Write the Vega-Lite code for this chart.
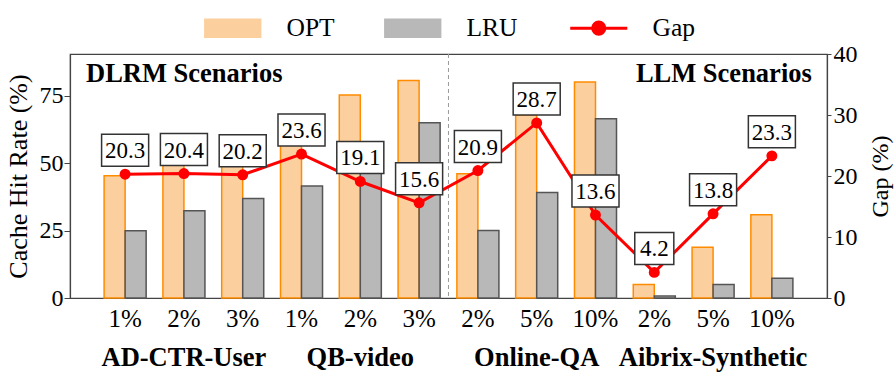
{
  "$schema": "https://vega.github.io/schema/vega-lite/v6.json",
  "width": 757,
  "height": 244,
  "autosize": {"type": "none"},
  "padding": {"left": 70, "top": 54, "right": 69, "bottom": 81},
  "datasets": {
    "bars": [
      {"cat": "AD-CTR-User|1%", "series": "OPT", "value": 45.3},
      {"cat": "AD-CTR-User|1%", "series": "LRU", "value": 24.9},
      {"cat": "AD-CTR-User|2%", "series": "OPT", "value": 52.7},
      {"cat": "AD-CTR-User|2%", "series": "LRU", "value": 32.3},
      {"cat": "AD-CTR-User|3%", "series": "OPT", "value": 57.1},
      {"cat": "AD-CTR-User|3%", "series": "LRU", "value": 36.9},
      {"cat": "QB-video|1%", "series": "OPT", "value": 65.1},
      {"cat": "QB-video|1%", "series": "LRU", "value": 41.5},
      {"cat": "QB-video|2%", "series": "OPT", "value": 75.2},
      {"cat": "QB-video|2%", "series": "LRU", "value": 56.1},
      {"cat": "QB-video|3%", "series": "OPT", "value": 80.6},
      {"cat": "QB-video|3%", "series": "LRU", "value": 64.9},
      {"cat": "Online-QA|2%", "series": "OPT", "value": 46.0},
      {"cat": "Online-QA|2%", "series": "LRU", "value": 25.0},
      {"cat": "Online-QA|5%", "series": "OPT", "value": 67.8},
      {"cat": "Online-QA|5%", "series": "LRU", "value": 39.1},
      {"cat": "Online-QA|10%", "series": "OPT", "value": 80.0},
      {"cat": "Online-QA|10%", "series": "LRU", "value": 66.4},
      {"cat": "Aibrix-Synthetic|2%", "series": "OPT", "value": 5.0},
      {"cat": "Aibrix-Synthetic|2%", "series": "LRU", "value": 0.7},
      {"cat": "Aibrix-Synthetic|5%", "series": "OPT", "value": 18.8},
      {"cat": "Aibrix-Synthetic|5%", "series": "LRU", "value": 5.0},
      {"cat": "Aibrix-Synthetic|10%", "series": "OPT", "value": 30.8},
      {"cat": "Aibrix-Synthetic|10%", "series": "LRU", "value": 7.3}
    ],
    "gap": [
      {"cat": "AD-CTR-User|1%", "gap": 20.3},
      {"cat": "AD-CTR-User|2%", "gap": 20.4},
      {"cat": "AD-CTR-User|3%", "gap": 20.2},
      {"cat": "QB-video|1%", "gap": 23.6},
      {"cat": "QB-video|2%", "gap": 19.1},
      {"cat": "QB-video|3%", "gap": 15.6},
      {"cat": "Online-QA|2%", "gap": 20.9},
      {"cat": "Online-QA|5%", "gap": 28.7},
      {"cat": "Online-QA|10%", "gap": 13.6},
      {"cat": "Aibrix-Synthetic|2%", "gap": 4.2},
      {"cat": "Aibrix-Synthetic|5%", "gap": 13.8},
      {"cat": "Aibrix-Synthetic|10%", "gap": 23.3}
    ]
  },
  "layer": [
    {
      "layer": [
        {
          "data": {"name": "bars"},
          "mark": {"type": "bar", "strokeWidth": 1.5},
          "encoding": {
            "x": {
              "field": "cat",
              "type": "nominal",
              "scale": {
                "domain": ["AD-CTR-User|1%", "AD-CTR-User|2%", "AD-CTR-User|3%", "QB-video|1%", "QB-video|2%", "QB-video|3%", "Online-QA|2%", "Online-QA|5%", "Online-QA|10%", "Aibrix-Synthetic|2%", "Aibrix-Synthetic|5%", "Aibrix-Synthetic|10%"],
                "paddingInner": 0.285,
                "paddingOuter": 0.58
              },
              "axis": {
                "orient": "bottom",
                "title": null,
                "labelAngle": 0,
                "ticks": false,
                "tickSize": 0,
                "labelPadding": 8,
                "labelFontSize": 25,
                "labelExpr": "split(datum.value, '|')[1]"
              }
            },
            "xOffset": {
              "field": "series",
              "type": "nominal",
              "scale": {"domain": ["OPT", "LRU"], "paddingInner": 0, "paddingOuter": 0}
            },
            "y": {
              "field": "value",
              "type": "quantitative",
              "scale": {"domain": [0, 90.4], "nice": false},
              "axis": {
                "orient": "left",
                "values": [0, 25, 50, 75],
                "title": "Cache Hit Rate (%)",
                "titleFontSize": 26,
                "labelFontSize": 24,
                "tickSize": 6,
                "labelPadding": 1,
                "titlePadding": 8
              }
            },
            "color": {
              "field": "series",
              "type": "nominal",
              "scale": {"domain": ["OPT", "LRU", "Gap"], "range": ["#fccf9f", "#b8b8b8", "#ff0000"]},
              "legend": {
                "orient": "none",
                "legendX": 150,
                "legendY": -39,
                "direction": "horizontal",
                "title": null,
                "labelFont": "Liberation Serif, DejaVu Serif, serif",
                "labelFontSize": 25.5,
                "labelColor": "#000",
                "symbolSize": 324,
                "labelOffset": 41,
                "columnPadding": 46,
                "encode": {
                  "symbols": {
                    "update": {
                      "shape": {"signal": "datum.value === 'Gap' ? 'M-3.17,0H3.17M-0.67,0A0.67,0.67 0 1,0 0.67,0A0.67,0.67 0 1,0 -0.67,0Z' : 'M-3.1,-1H3.1V1H-3.1Z'"},
                      "fill": {"signal": "datum.value === 'OPT' ? '#fccf9f' : datum.value === 'LRU' ? '#b8b8b8' : '#ff0000'"},
                      "stroke": {"signal": "datum.value === 'OPT' ? '#ff8c00' : datum.value === 'LRU' ? '#555555' : '#ff0000'"},
                      "strokeWidth": {"signal": "datum.value === 'Gap' ? 3 : 1.5"},
                      "opacity": {"value": 1},
                      "fillOpacity": {"value": 1},
                      "strokeOpacity": {"value": 1}
                    }
                  }
                }
              }
            },
            "stroke": {
              "field": "series",
              "type": "nominal",
              "scale": {"domain": ["OPT", "LRU"], "range": ["#ff8c00", "#555555"]},
              "legend": null
            }
          }
        },
        {
          "data": {"values": [{}]},
          "mark": {"type": "rule", "color": "#9a9a9a", "strokeDash": [4, 3], "strokeWidth": 1},
          "encoding": {
            "x": {"datum": "Online-QA|2%", "type": "nominal", "bandPosition": -0.2}
          }
        },
        {
          "data": {"values": [{"t": "DLRM Scenarios"}]},
          "mark": {"type": "text", "align": "left", "baseline": "middle", "fontWeight": "bold", "fontSize": 26.5, "font": "Liberation Serif, DejaVu Serif, serif", "color": "#000"},
          "encoding": {
            "x": {"datum": "AD-CTR-User|1%", "type": "nominal", "bandPosition": -0.43},
            "y": {"datum": 83, "type": "quantitative"},
            "text": {"field": "t"}
          }
        },
        {
          "data": {"values": [{"t": "LLM Scenarios"}]},
          "mark": {"type": "text", "align": "right", "baseline": "middle", "fontWeight": "bold", "fontSize": 26.5, "font": "Liberation Serif, DejaVu Serif, serif", "color": "#000"},
          "encoding": {
            "x": {"datum": "Aibrix-Synthetic|10%", "type": "nominal", "bandPosition": 1.45},
            "y": {"datum": 83, "type": "quantitative"},
            "text": {"field": "t"}
          }
        }
      ]
    },
    {
      "data": {"name": "gap"},
      "encoding": {
        "x": {
          "field": "cat",
          "type": "nominal",
          "axis": {
            "orient": "bottom",
            "title": null,
            "labelAngle": 0,
            "domain": false,
            "ticks": false,
            "tickSize": 0,
            "labelPadding": 46,
            "labelFontSize": 26.5,
            "labelFontWeight": "bold",
            "labelLimit": 400,
            "labelOverlap": false,
            "labelBound": false,
            "labelExpr": "indexof(['AD-CTR-User|2%','QB-video|2%','Online-QA|5%','Aibrix-Synthetic|5%'], datum.value) >= 0 ? split(datum.value, '|')[0] : ''"
          }
        },
        "y": {
          "field": "gap",
          "type": "quantitative",
          "scale": {"domain": [0, 40], "nice": false},
          "axis": {
            "orient": "right",
            "values": [0, 10, 20, 30, 40],
            "title": "Gap (%)",
            "titleFontSize": 24,
            "labelFontSize": 24,
            "titleAngle": 270,
            "titleBaseline": "middle",
            "titleAlign": "center",
            "titleX": 53,
            "titleY": 122,
            "tickSize": 4,
            "labelPadding": 2
          }
        }
      },
      "layer": [
        {
          "mark": {"type": "line", "strokeWidth": 3, "point": {"filled": true, "size": 120}},
          "encoding": {"color": {"datum": "Gap", "type": "nominal"}}
        },
        {
          "mark": {"type": "point", "filled": true, "fill": "#ffffff", "stroke": "#333333", "strokeWidth": 1.5, "opacity": 1, "size": 1024, "yOffset": -24},
          "encoding": {
            "shape": {
              "condition": {"test": "datum.gap < 10", "value": "M-1.22,-1H1.22V1H-1.22Z"},
              "value": "M-1.47,-1H1.47V1H-1.47Z"
            }
          }
        },
        {
          "mark": {"type": "text", "fontSize": 23, "font": "Liberation Serif, DejaVu Serif, serif", "baseline": "middle", "yOffset": -23, "color": "#000"},
          "encoding": {"text": {"field": "gap", "type": "quantitative", "format": ".1f"}}
        }
      ]
    }
  ],
  "resolve": {"scale": {"y": "independent"}, "axis": {"x": "independent"}},
  "config": {
    "font": "Liberation Serif, DejaVu Serif, serif",
    "view": {"stroke": "#444444", "strokeWidth": 1.2},
    "axis": {
      "labelFont": "Liberation Serif, DejaVu Serif, serif",
      "titleFont": "Liberation Serif, DejaVu Serif, serif",
      "labelFontSize": 22,
      "titleFontSize": 22,
      "titleFontWeight": "normal",
      "labelColor": "#000",
      "titleColor": "#000",
      "domainColor": "#444444",
      "tickColor": "#444444",
      "domainWidth": 1.2,
      "grid": false
    }
  }
}
